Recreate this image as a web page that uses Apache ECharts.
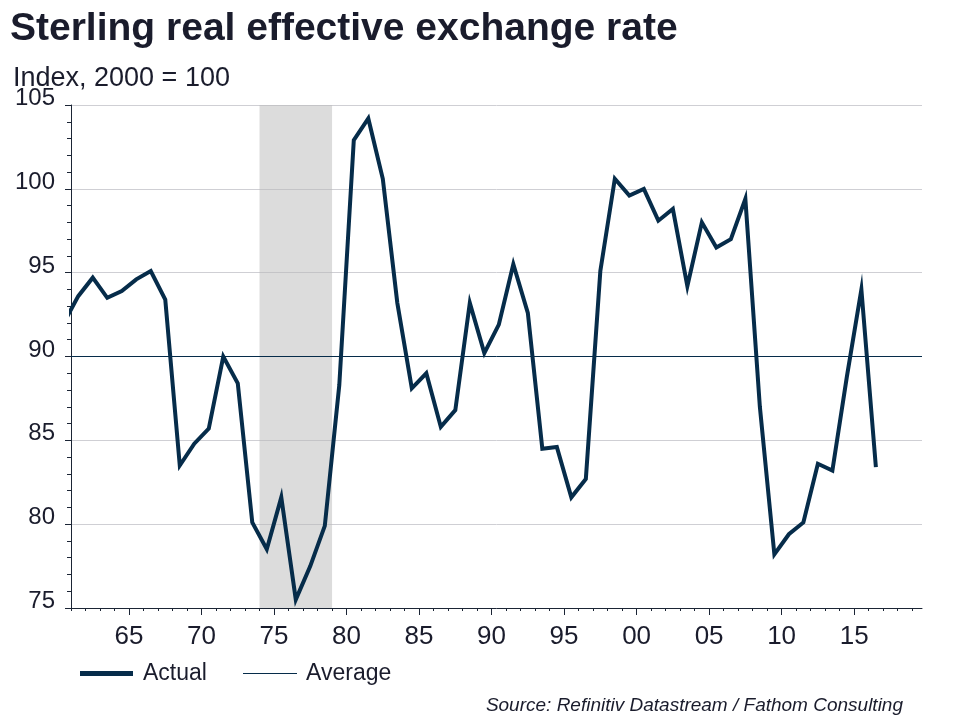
<!DOCTYPE html>
<html>
<head>
<meta charset="utf-8">
<script src="https://cdn.jsdelivr.net/npm/echarts@6/dist/echarts.min.js"></script>
<style>html,body{margin:0;padding:0;background:#fff}#c{width:960px;height:720px}</style>
</head>
<body>
<div id="c"></div>
<script>
// Data (annual, plotted at mid-year)
const years = [1960,1961,1962,1963,1964,1965,1966,1967,1968,1969,1970,1971,1972,1973,1974,1975,1976,1977,1978,1979,1980,1981,1982,1983,1984,1985,1986,1987,1988,1989,1990,1991,1992,1993,1994,1995,1996,1997,1998,1999,2000,2001,2002,2003,2004,2005,2006,2007,2008,2009,2010,2011,2012,2013,2014,2015,2016];
const actual = [92.0,93.6,94.7,93.5,93.9,94.6,95.1,93.4,83.5,84.8,85.7,90.0,88.4,80.1,78.5,81.6,75.5,77.5,79.9,88.3,102.9,104.2,100.6,93.2,88.1,89.0,85.8,86.8,93.2,90.2,91.9,95.5,92.6,84.5,84.6,81.6,82.7,95.1,100.6,99.6,100.0,98.1,98.8,94.2,98.0,96.5,97.0,99.4,87.0,78.2,79.4,80.1,83.6,83.2,88.8,94.0,83.4];
const averageValue = 90;
const shadedPeriod = [1974, 1979];
const xRange = [1961, 2019.68];
const majorTickYears = [1965,1970,1975,1980,1985,1990,1995,2000,2005,2010,2015];
const minorTickYears = [];
for (let y = 1961; y <= 2019; y++) minorTickYears.push(y);

const seriesNames = ['Actual', 'Average'];
const titleText = 'Sterling real effective exchange rate';
const subtitleText = 'Index, 2000 = 100';
const sourceText = 'Source: Refinitiv Datastream / Fathom Consulting';

const navy = '#062c4a';
const textCol = '#1a1c2c';
const font = '"Liberation Sans", Arial, sans-serif';

const actualData = years.map((y, i) => [y + 0.5, actual[i]]);
const avgData = [[xRange[0], averageValue], [xRange[1], averageValue]];

const chart = echarts.init(document.getElementById('c'), null, {renderer: 'canvas'});
chart.setOption({
  animation: false,
  backgroundColor: '#ffffff',
  textStyle: {fontFamily: font},
  title: [
    {text: titleText, left: 5, top: 5, textStyle: {fontFamily: font, fontSize: 39, fontWeight: 'bold', color: textCol}},
    {text: subtitleText, left: 8, top: 60, textStyle: {fontFamily: font, fontSize: 27, fontWeight: 'normal', color: textCol}}
  ],
  legend: [
    {
      left: 80, top: 662, padding: 0, itemWidth: 53, itemHeight: 5, icon: 'rect',
      data: [seriesNames[0]],
      textStyle: {fontFamily: font, fontSize: 23, color: textCol, padding: [0,0,0,5]}
    },
    {
      left: 243, top: 662, padding: 0, itemWidth: 54, itemHeight: 1.2, icon: 'rect',
      data: [seriesNames[1]],
      textStyle: {fontFamily: font, fontSize: 23, color: textCol, padding: [0,0,0,4]}
    }
  ],
  graphic: [
    {type: 'text', right: 57, top: 696, style: {text: sourceText, font: 'italic 19px "Liberation Sans", Arial, sans-serif', fill: textCol}}
  ],
  grid: {left: 71, right: 38, top: 105, bottom: 112, containLabel: false},
  xAxis: [
    {
      type: 'value', min: xRange[0], max: xRange[1],
      axisLine: {show: true, lineStyle: {color: '#1b2535', width: 1}},
      axisTick: {show: true, customValues: majorTickYears, length: 7, lineStyle: {color: '#1b2535'}},
      axisLabel: {show: true, customValues: majorTickYears, margin: 16, fontSize: 26, color: textCol, fontFamily: font,
        formatter: v => String(v % 100).padStart(2, '0')},
      splitLine: {show: false}
    },
    {
      type: 'value', min: xRange[0], max: xRange[1], position: 'bottom',
      axisLine: {show: false},
      axisTick: {show: true, customValues: minorTickYears, length: 3, lineStyle: {color: '#1b2535'}},
      axisLabel: {show: false},
      splitLine: {show: false}
    }
  ],
  yAxis: {
    type: 'value', min: 75, max: 105, interval: 5,
    axisLine: {show: true, lineStyle: {color: '#1b2535', width: 1}},
    axisTick: {show: true, inside: false, length: 6, lineStyle: {color: '#1b2535'}},
    minorTick: {show: true, splitNumber: 5, length: 4, lineStyle: {color: '#1b2535'}},
    axisLabel: {fontSize: 24, color: textCol, fontFamily: font, margin: 16, verticalAlign: 'bottom', lineHeight: 13},
    splitLine: {show: true, lineStyle: {color: '#cfcfd4', width: 1}}
  },
  series: [
    {
      name: seriesNames[0], type: 'line', data: actualData, xAxisIndex: 0,
      symbol: 'none', clip: true, z: 5,
      lineStyle: {color: navy, width: 4, join: 'miter'},
      itemStyle: {color: navy},
      markArea: {
        silent: true,
        itemStyle: {color: 'rgba(185,185,185,0.5)'},
        data: [[{xAxis: shadedPeriod[0]}, {xAxis: shadedPeriod[1]}]]
      }
    },
    {
      name: seriesNames[1], type: 'line', data: avgData, xAxisIndex: 0,
      symbol: 'none', z: 4,
      lineStyle: {color: navy, width: 1},
      itemStyle: {color: navy}
    }
  ]
});
</script>
</body>
</html>
